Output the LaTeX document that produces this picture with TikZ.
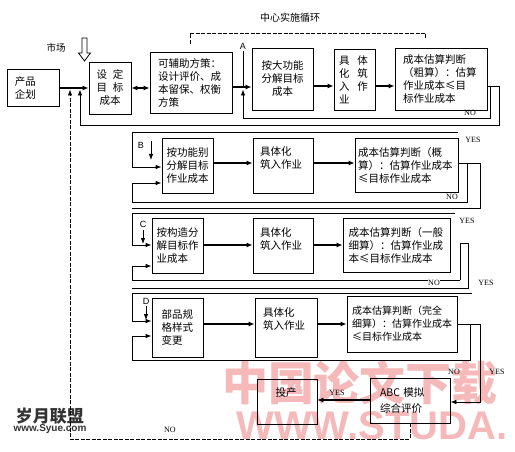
\documentclass[tikz,border=0pt]{standalone}
\usepackage{fontspec}
\setmainfont{Liberation Serif}
\newfontfamily\cjk{Noto Sans CJK SC}
\newfontfamily\lsans{Liberation Sans}
\usetikzlibrary{arrows.meta}
\definecolor{wm}{RGB}{245,185,185}
\begin{document}
\begin{tikzpicture}[x=1pt,y=-1pt,
  box/.style={draw, line width=0.8pt, inner sep=2pt, font=\cjk\fontsize{10.5}{13}\selectfont},
  txt/.style={inner sep=0pt, font=\cjk\fontsize{10.5}{13}\selectfont, align=left, anchor=north west},
  flow/.style={line width=1.3pt, -{Latex[length=6pt,width=5pt]}},
  flowtwo/.style={line width=1.3pt, {Latex[length=6pt,width=5pt]}-{Latex[length=6pt,width=5pt]}},
  lp/.style={line width=0.8pt},
  lpa/.style={line width=0.8pt, -{Latex[length=6pt,width=4.5pt]}},
  dsh/.style={line width=0.8pt, dash pattern=on 4pt off 1.5pt},
  dsha/.style={dsh, -{Latex[length=6pt,width=4.5pt]}},
  yn/.style={font=\fontsize{8}{9}\selectfont, inner sep=0.5pt},
  mk/.style={font=\lsans\fontsize{9}{10}\selectfont, inner sep=0pt},
]
\useasboundingbox (0,0) rectangle (515,452);
\fill[white] (0,0) rectangle (515,452);

% watermarks
\node[font=\cjk\bfseries\fontsize{46}{46}\selectfont, text=wm] (wma) at (360,383) {中国论文下载};
\node[font=\lsans\bfseries\fontsize{40}{40}\selectfont, text=wm] (wmb) at (372,426) {WWW.STUDA.};
\node[font=\cjk\bfseries\fontsize{17}{17}\selectfont, text=black!80] (wmc) at (50,416) {岁月联盟};
\node[font=\lsans\bfseries\fontsize{10}{10}\selectfont, text=black!80] (wmd) at (50,429) {www.Syue.com};

% ---------- row A ----------
\node[box, minimum width=52pt, minimum height=37pt, text width=36pt, align=left] (plan) at (33,88) {产品\\企划};
\node[box, minimum width=42pt, minimum height=52pt, align=center] (set) at (110,88) {设\hspace{6pt}定\\目\hspace{6pt}标\\成本};
\node[box, minimum width=82pt, minimum height=61pt, text width=66pt, align=left] (aux) at (191,82.5) {可辅助方策：\\设计评价、成\\本留保、权衡\\方策};
\node[box, minimum width=61pt, minimum height=62pt, align=center] (big) at (282.5,79) {按大功能\\分解目标\\成本};
\node[box, minimum width=41pt, minimum height=61pt, text width=31pt, align=left] (emba) at (354.5,79.5) {具\hspace{8pt}体\\化\hspace{8pt}筑\\入\hspace{8pt}作\\业};
\node[box, minimum width=92pt, minimum height=62pt, text width=76pt, align=left] (juda) at (441,79) {成本估算判断\\（粗算）：估算\\作业成本≤目\\标作业成本};

\node[font=\cjk\fontsize{9.5}{10}\selectfont, inner sep=0pt] (mkt) at (56,48) {市场};
\node[font=\cjk\fontsize{10}{11}\selectfont, inner sep=0pt] (ctr) at (290,18) {中心实施循环};
\draw[line width=0.8pt, fill=white] (82,38) -- (87,38) -- (87,53) -- (90.5,53) -- (84.5,61) -- (78.5,53) -- (82,53) -- cycle;

\coordinate (bra1) at (190,44); \coordinate (bra2) at (190,33);
\coordinate (bra3) at (425,33); \coordinate (bra4) at (425,39);
\draw[dsh] (bra1) -- (bra2) -- (bra3) -- (bra4);

\coordinate (ya) at (0,87); \coordinate (yb) at (0,86);
\draw[flow] (plan.east) -- (plan.east -| set.west);
\draw[flowtwo] (set.east) -- (set.east -| aux.west);
\draw[flow] (aux.east |- ya) -- (big.west |- ya);
\draw[flow] (big.east |- yb) -- (emba.west |- yb);
\draw[flow] (emba.east |- yb) -- (juda.west |- yb);

\node[mk] (la) at (243,46) {A};
\coordinate (ja) at (243,87);
\draw[lp] ([yshift=-2pt]la.south) -- (ja);

\coordinate (ea1) at (490,86); \coordinate (ea2) at (490,118);
\coordinate (ea3) at (243,118); \coordinate (ea4) at (243,89.5);
\draw[lpa] (juda.east |- yb) -- (ea1) -- (ea2) -- (ea3) -- (ea4);
\coordinate (oa1) at (499,86); \coordinate (oa2) at (499,125);
\coordinate (oa3) at (80,125); \coordinate (oa4) at (80,89.5);
\draw[lpa] (ea1) -- (oa1) -- (oa2) -- (oa3) -- (oa4);
\node[yn] (noa) at (470,113) {NO};

% ---------- row B ----------
\node[box, minimum width=51pt, minimum height=55pt, align=center] (b1) at (187.5,165.5) {按功能别\\分解目标\\作业成本};
\node[box, minimum width=60pt, minimum height=55pt] (b2) at (283,165.5) {};
\node[txt] (b2t) at (260,146) {具体化\\筑入作业};
\node[box, minimum width=103pt, minimum height=54pt, text width=97pt, align=left] (b3) at (406.5,165) {成本估算判断（概\\算）：估算作业成本\\≤目标作业成本};

\coordinate (fb0) at (132,132); \coordinate (fb1) at (458,132);
\coordinate (ybin) at (0,167); \coordinate (ybf) at (0,163); \coordinate (ybl) at (0,183);
\draw[lpa] (fb1) -- (fb0) -- (fb0 |- ybin) -- (b1.west |- ybin);
\node[mk] (lb) at (141,145) {B};
\coordinate (ab1) at (151,141); \coordinate (ab2) at (151,160);
\draw[lpa] (ab1) -- (ab2);
\draw[flow] (b1.east |- ybf) -- (b2.west |- ybf);
\draw[flow] (b2.east |- ybf) -- (b3.west |- ybf);
\coordinate (eb1) at (467,163); \coordinate (eb2) at (467,202);
\coordinate (eb3) at (132,202); \coordinate (eb4) at (132,183);
\coordinate (ob1) at (480,163); \coordinate (ob2) at (480,208); \coordinate (ob3) at (132,208);
\draw[lp] (b3.east |- ybf) -- (ob1) -- (ob2) -- (ob3);
\draw[lpa] (eb1) -- (eb2) -- (eb3) -- (eb4) -- (b1.west |- ybl);
\node[yn] (yesb) at (473,140) {YES};
\node[yn] (nob) at (452,197) {NO};

% ---------- row C ----------
\node[box, minimum width=51pt, minimum height=55pt, text width=42pt, align=left] (c1) at (177.5,245.5) {按构造分\\解目标作\\业成本};
\node[box, minimum width=60pt, minimum height=55pt] (c2) at (283,245.5) {};
\node[txt] (c2t) at (260,227) {具体化\\筑入作业};
\node[box, minimum width=107pt, minimum height=54pt, text width=96pt, align=left] (c3) at (396.5,245) {成本估算判断（一般\\细算）：估算作业成\\本≤目标作业成本};

\coordinate (fc0) at (132,213); \coordinate (fc1) at (455,213);
\coordinate (ycin) at (0,245); \coordinate (ycl) at (0,266);
\draw[lpa] (fc1) -- (fc0) -- (fc0 |- ycin) -- (c1.west |- ycin);
\node[mk] (lc) at (143,224) {C};
\coordinate (ac1) at (143,230); \coordinate (ac2) at (143,244);
\draw[lpa] (ac1) -- (ac2);
\draw[flow] (c1.east |- ycin) -- (c2.west |- ycin);
\draw[flow] (c2.east |- ycin) -- (c3.west |- ycin);
\coordinate (ec1) at (460,280); \coordinate (ec2) at (460,243);
\coordinate (ec3) at (468,243); \coordinate (ec4) at (468,288);
\coordinate (ec5) at (132,280); \coordinate (ec6) at (132,288);
\draw[lp] (ec1) -- (ec2) -- (ec3) -- (ec4) -- (ec6);
\draw[lpa] (ec1) -- (ec5) -- (ec5 |- ycl) -- (c1.west |- ycl);
\node[yn] (yesc) at (467,221) {YES};
\node[yn, fill=white] (noc) at (434,283) {NO};
\node[yn] (yesc2) at (486,283) {YES};

% ---------- row D ----------
\node[box, minimum width=51pt, minimum height=59pt, text width=32pt, align=left] (d1) at (177.5,327.5) {部品规\\格样式\\变更};
\node[box, minimum width=62pt, minimum height=59pt] (d2) at (286,327.5) {};
\node[txt] (d2t) at (263,307) {具体化\\筑入作业};
\node[box, minimum width=110pt, minimum height=56pt, text width=100pt, align=left, font=\cjk\fontsize{10}{13}\selectfont] (d3) at (402,324) {成本估算判断（完全\\细算）：估算作业成本\\≤目标作业成本};

\coordinate (fd0) at (132,293); \coordinate (fd1) at (472,293);
\coordinate (ydin) at (0,321); \coordinate (ydf) at (0,324); \coordinate (ydl) at (0,336);
\draw[lpa] (fd1) -- (fd0) -- (fd0 |- ydin) -- (d1.west |- ydin);
\node[mk] (ld) at (146,301) {D};
\coordinate (ad1) at (146,306); \coordinate (ad2) at (146,320);
\draw[lpa] (ad1) -- (ad2);
\draw[flow] (d1.east |- ydf) -- (d2.west |- ydf);
\draw[flow] (d2.east |- ydf) -- (d3.west |- ydf);
\coordinate (ed1) at (470,324); \coordinate (ed2) at (470,360);
\coordinate (ed3) at (132,360);
\draw[lpa] (ed1) -- (ed2) -- (ed3) -- (ed3 |- ydl) -- (d1.west |- ydl);

% ---------- bottom ----------
\node[box, minimum width=80pt, minimum height=45pt, text width=60pt, align=left] (abc) at (410,400.5) {ABC 模拟\\[3pt]综合评价};
\node[box, minimum width=60pt, minimum height=45pt] (prod) at (287,401.5) {};
\node[font=\cjk\fontsize{10.5}{13}\selectfont, inner sep=0pt] (prodt) at (286,393) {投产};

\coordinate (od1) at (480,324); \coordinate (od2) at (480,402);
\draw[lp] (d3.east |- ydf) -- (od1);
\draw[lpa] (od1) -- (od2) -- (abc.east |- od2);
\coordinate (yab) at (0,400);
\draw[flow] (abc.west |- yab) -- (prod.east |- yab);
\node[yn] (nod) at (454,372) {NO};
\node[yn] (yesd) at (497,372) {YES};
\node[yn] (yese) at (337,393) {YES};

\coordinate (ng1) at (410,439); \coordinate (ng2) at (70,439); \coordinate (ng3) at (70,89.5);
\draw[dsha] (abc.south) -- (ng1) -- (ng2) -- (ng3);
\node[yn] (nof) at (170,430) {NO};
\end{tikzpicture}
\end{document}
